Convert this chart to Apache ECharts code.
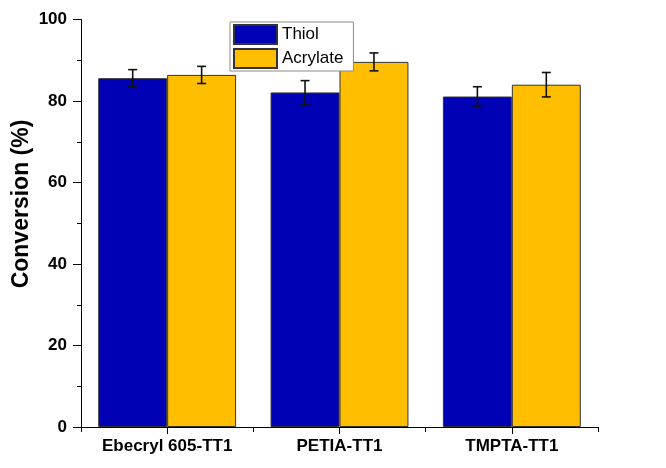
<!DOCTYPE html>
<html>
<head>
<meta charset="utf-8">
<script src="https://cdn.jsdelivr.net/npm/echarts@6/dist/echarts.min.js"></script>
<style>html,body{margin:0;padding:0;background:#fff}#c{width:666px;height:468px}</style>
</head>
<body>
<div id="c"></div>
<script>
const categories = ['Ebecryl 605-TT1', 'PETIA-TT1', 'TMPTA-TT1'];
const seriesNames = ['Thiol', 'Acrylate'];
const thiolValues = [85.6, 82.1, 81.1];
const thiolErr = [2.1, 2.9, 2.4];
const acrylateValues = [86.4, 89.6, 84.0];
const acrylateErr = [2.1, 2.2, 3.0];
const yTicks = [0, 20, 40, 60, 80, 100];

const chart = echarts.init(document.getElementById('c'));
const FONT = 'Liberation Sans, Arial, sans-serif';

function errSeries(values, errs, side) {
  return {
    type: 'custom',
    xAxisIndex: 0,
    yAxisIndex: 0,
    silent: true,
    z: 10,
    data: values.map((v, i) => [i, v, errs[i]]),
    renderItem: function (params, api) {
      const i = api.value(0), v = api.value(1), e = api.value(2);
      const catW = api.size([1, 0])[0];
      const dx = side * catW * 0.2;
      const top = api.coord([i, v + e]);
      const bot = api.coord([i, v - e]);
      const x = top[0] + dx;
      const cap = 4.5;
      const st = { stroke: '#111', lineWidth: 1.6 };
      return {
        type: 'group',
        children: [
          { type: 'line', shape: { x1: x, y1: top[1], x2: x, y2: bot[1] }, style: st },
          { type: 'line', shape: { x1: x - cap, y1: top[1], x2: x + cap, y2: top[1] }, style: st },
          { type: 'line', shape: { x1: x - cap, y1: bot[1], x2: x + cap, y2: bot[1] }, style: st }
        ]
      };
    }
  };
}

chart.setOption({
  animation: false,
  backgroundColor: '#fff',
  grid: { left: 81, right: 68, top: 19.5, bottom: 41, containLabel: false },
  legend: {
    data: seriesNames,
    orient: 'vertical',
    left: 230,
    top: 22,
    icon: 'rect',
    itemWidth: 43,
    itemHeight: 19,
    itemGap: 3,
    padding: [2, 10, 2, 3],
    borderColor: '#8a8a8a',
    borderWidth: 1,
    borderRadius: 0,
    backgroundColor: '#fff',
    textStyle: { fontFamily: FONT, fontSize: 17, color: '#000' }
  },
  xAxis: [
    {
      type: 'category',
      data: categories,
      axisLine: { lineStyle: { color: '#000', width: 1 } },
      axisTick: { show: true, length: 5, lineStyle: { color: '#000' } },
      axisLabel: { fontFamily: FONT, fontSize: 17, fontWeight: 'bold', color: '#000', margin: 11 }
    },
    {
      type: 'category',
      data: categories,
      position: 'bottom',
      axisLine: { show: false },
      axisTick: { show: true, alignWithLabel: true, length: 7, lineStyle: { color: '#000' } },
      axisLabel: { show: false }
    }
  ],
  yAxis: {
    type: 'value',
    min: yTicks[0],
    max: yTicks[yTicks.length - 1],
    interval: 20,
    splitLine: { show: false },
    axisLine: { show: true, lineStyle: { color: '#000', width: 1 } },
    axisTick: { show: true, length: 8, lineStyle: { color: '#000' } },
    minorTick: { show: true, splitNumber: 2, length: 4, lineStyle: { color: '#000' } },
    axisLabel: { fontFamily: FONT, fontSize: 17, fontWeight: 'bold', color: '#000', margin: 14 }
  },
  graphic: [{
    type: 'text',
    x: 22,
    y: 204,
    rotation: Math.PI / 2,
    style: {
      text: 'Conversion (%)',
      fontFamily: FONT,
      fontSize: 23,
      fontWeight: 'bold',
      fill: '#000',
      align: 'center',
      verticalAlign: 'middle'
    }
  }],
  series: [
    {
      name: seriesNames[0],
      type: 'bar',
      data: thiolValues,
      barGap: '0%',
      barCategoryGap: '20%',
      itemStyle: { color: '#0000B4', borderColor: '#333', borderWidth: 1 }
    },
    {
      name: seriesNames[1],
      type: 'bar',
      data: acrylateValues,
      barGap: '0%',
      barCategoryGap: '20%',
      itemStyle: { color: '#FFBF00', borderColor: '#333', borderWidth: 1 }
    },
    errSeries(thiolValues, thiolErr, -1),
    errSeries(acrylateValues, acrylateErr, 1)
  ]
});
</script>
</body>
</html>
